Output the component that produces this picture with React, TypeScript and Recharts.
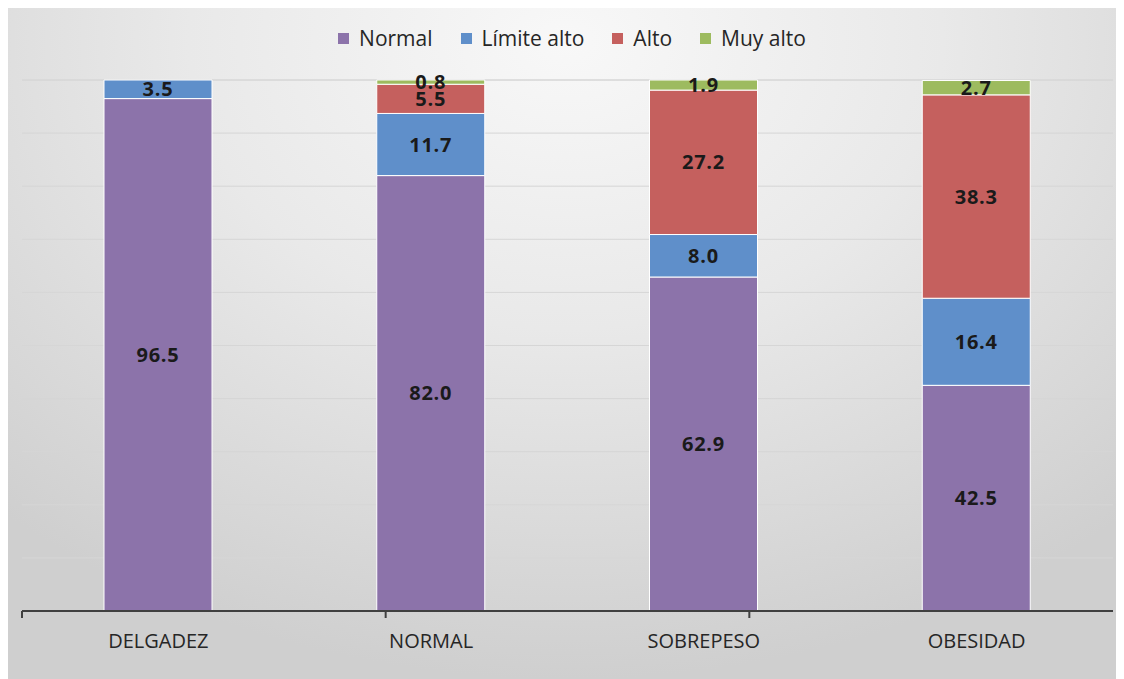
import { BarChart, Bar, XAxis, YAxis, CartesianGrid, Legend, LabelList } from "recharts";

const categories = ["DELGADEZ", "NORMAL", "SOBREPESO", "OBESIDAD"];
const normal = [96.5, 82.0, 62.9, 42.5];
const limiteAlto = [3.5, 11.7, 8.0, 16.4];
const alto = [null, 5.5, 27.2, 38.3];
const muyAlto = [null, 0.8, 1.9, 2.7];
const yTicks = [0, 10, 20, 30, 40, 50, 60, 70, 80, 90, 100];
const edgeTicks = [0, 1, 2, 3, 4];

const series = [
  { key: "normal", name: "Normal", color: "#8c73aa" },
  { key: "limiteAlto", name: "Límite alto", color: "#5f8fca" },
  { key: "alto", name: "Alto", color: "#c5605e" },
  { key: "muyAlto", name: "Muy alto", color: "#9dbb5f" },
];

const data = categories.map((c, i) => ({
  name: c,
  normal: normal[i],
  limiteAlto: limiteAlto[i],
  alto: alto[i],
  muyAlto: muyAlto[i],
}));

const FONT = "'Open Sans', sans-serif";

const fmt = (v: any) => (v == null ? "" : Number(v).toFixed(1));

const LegendContent = () => (
  <div
    style={{
      display: "flex",
      justifyContent: "center",
      fontFamily: FONT,
      fontSize: 21,
      color: "#262626",
      paddingLeft: 40,
    }}
  >
    {series.map((s) => (
      <div key={s.key} style={{ display: "flex", alignItems: "center", marginRight: 28 }}>
        <span
          style={{
            width: 11,
            height: 11,
            background: s.color,
            display: "inline-block",
            marginRight: 10,
          }}
        />
        <span>{s.name}</span>
      </div>
    ))}
  </div>
);

export default function App() {
  return (
    <div
      style={{
        width: 1116,
        height: 671,
        background:
          "radial-gradient(ellipse 75% 95% at 50% 5%, #f8f8f8 0%, #e9e9e9 45%, #cfcfcf 100%)",
      }}
    >
      <BarChart
        width={1116}
        height={671}
        data={data}
        margin={{ top: 44, right: 11, bottom: 28, left: 14 }}
        barSize={108}
      >
        <CartesianGrid xAxisId="cat" vertical={false} stroke="#d6d6d6" />
        <XAxis
          xAxisId="cat"
          dataKey="name"
          axisLine={false}
          tickLine={false}
          height={39}
          tickMargin={16}
          tick={{ fontFamily: FONT, fontSize: 20, fill: "#262626" }}
        />
        {/* edge axis: draws the baseline and the ticks between categories */}
        <XAxis
          xAxisId="a"
          type="number"
          domain={[0, 4]}
          ticks={edgeTicks}
          tick={() => <g />}
          tickSize={7}
          height={1}
          axisLine={{ stroke: "#404040", strokeWidth: 2 }}
          tickLine={{ stroke: "#404040", strokeWidth: 2 }}
        />
        <YAxis hide domain={[0, 100]} ticks={yTicks} />
        <Legend
          verticalAlign="top"
          content={<LegendContent />}
          wrapperStyle={{ top: 16, left: 0, width: 1116 }}
        />
        {series.map((s) => (
          <Bar
            key={s.key}
            xAxisId="cat"
            dataKey={s.key}
            name={s.name}
            stackId="a"
            fill={s.color}
            stroke="#ffffff"
            strokeWidth={1}
            isAnimationActive={false}
          >
            <LabelList
              dataKey={s.key}
              position="center"
              formatter={fmt}
              style={{
                fontFamily: FONT,
                fontSize: 20,
                fontWeight: 700,
                letterSpacing: 0.8,
                fill: "#1a1a1a",
              }}
            />
          </Bar>
        ))}
      </BarChart>
    </div>
  );
}
